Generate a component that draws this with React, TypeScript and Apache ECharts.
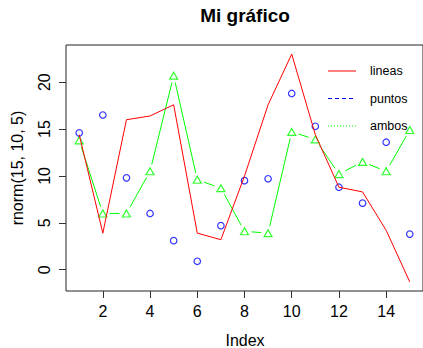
import React, { useEffect, useRef } from "react";
import * as echarts from "echarts";

// Index positions and the three series
const xIndex = [1, 2, 3, 4, 5, 6, 7, 8, 9, 10, 11, 12, 13, 14, 15];
const lineas = [14.4, 3.9, 16.0, 16.4, 17.6, 3.9, 3.2, 10.0, 17.6, 23.0, 14.4, 8.8, 8.3, 4.2, -1.3];
const puntos = [14.6, 16.5, 9.8, 6.0, 3.1, 0.9, 4.7, 9.5, 9.7, 18.8, 15.3, 8.8, 7.1, 13.6, 3.8];
const ambos = [13.8, 6.0, 6.0, 10.5, 20.7, 9.6, 8.7, 4.1, 3.9, 14.7, 13.9, 10.2, 11.5, 10.5, 14.9];

// Tick positions
const xTicks = [2, 4, 6, 8, 10, 12, 14];
const yTicks = [0, 5, 10, 15, 20];

// Legend entries
const legendLabels = ["lineas", "puntos", "ambos"];

const RED = "#FF0000";
const BLUE = "#0000FF";
const GREEN = "#00FF00";
const FONT = "'Liberation Sans', Arial, Helvetica, sans-serif";

// Base-graphics style 4% padding around the data range
function padRange(values: number[]): [number, number] {
  const lo = Math.min(...values);
  const hi = Math.max(...values);
  const d = (hi - lo) * 0.04;
  return [lo - d, hi + d];
}

export default function App() {
  const ref = useRef<HTMLDivElement>(null);

  useEffect(() => {
    if (!ref.current) return;
    const chart = echarts.init(ref.current, undefined, { renderer: "svg" });

    const [xMin, xMax] = padRange(xIndex);
    const [yMin, yMax] = padRange(lineas);

    const gridLeft = 66;
    const gridTop = 45;
    const gridWidth = 358;
    const gridHeight = 246;

    // segments between consecutive "ambos" points, drawn with a gap at each point
    const segData = ambos.slice(0, -1).map((v, i) => [xIndex[i], v, xIndex[i + 1], ambos[i + 1]]);

    const legendX1 = 328;
    const legendX2 = 356;
    const legendYs = [71, 98.5, 126];
    const legendStyles = [
      { stroke: RED, lineWidth: 1 },
      { stroke: BLUE, lineWidth: 1, lineDash: [4, 3] },
      { stroke: GREEN, lineWidth: 1, lineDash: [1, 2] },
    ];

    const graphic: any[] = [
      {
        type: "text",
        x: gridLeft + gridWidth / 2,
        y: 15,
        style: {
          text: "Mi gráfico",
          font: `bold 19px ${FONT}`,
          fill: "#000",
          textAlign: "center",
          textVerticalAlign: "middle",
        },
      },
      {
        type: "text",
        x: gridLeft + gridWidth / 2,
        y: 340,
        style: {
          text: "Index",
          font: `16px ${FONT}`,
          fill: "#000",
          textAlign: "center",
          textVerticalAlign: "middle",
        },
      },
      {
        type: "text",
        x: 17,
        y: gridTop + gridHeight / 2,
        rotation: Math.PI / 2,
        style: {
          text: "rnorm(15, 10, 5)",
          font: `16px ${FONT}`,
          fill: "#000",
          textAlign: "center",
          textVerticalAlign: "middle",
        },
      },
    ];
    legendLabels.forEach((label, i) => {
      graphic.push({
        type: "line",
        shape: { x1: legendX1, y1: legendYs[i], x2: legendX2, y2: legendYs[i] },
        style: legendStyles[i],
      });
      graphic.push({
        type: "text",
        x: 370,
        y: legendYs[i],
        style: {
          text: label,
          font: `12.5px ${FONT}`,
          fill: "#000",
          textAlign: "left",
          textVerticalAlign: "middle",
        },
      });
    });

    chart.setOption({
      animation: false,
      backgroundColor: "#fff",
      grid: {
        left: gridLeft,
        top: gridTop,
        width: gridWidth,
        height: gridHeight,
        show: true,
        borderColor: "#222",
        borderWidth: 1,
        backgroundColor: "transparent",
      },
      xAxis: {
        type: "value",
        min: xMin,
        max: xMax,
        splitLine: { show: false },
        axisLine: { show: false, onZero: false },
        axisTick: {
          show: true,
          customValues: xTicks,
          length: 7,
          lineStyle: { color: "#333", width: 1 },
        },
        axisLabel: {
          customValues: xTicks,
          color: "#000",
          fontSize: 16,
          fontFamily: FONT,
          margin: 12,
        },
      },
      yAxis: {
        type: "value",
        min: yMin,
        max: yMax,
        splitLine: { show: false },
        axisLine: { show: false, onZero: false },
        axisTick: {
          show: true,
          customValues: yTicks,
          length: 7,
          lineStyle: { color: "#333", width: 1 },
        },
        axisLabel: {
          customValues: yTicks,
          color: "#000",
          fontSize: 16,
          fontFamily: FONT,
          rotate: 90,
          margin: 14,
        },
      },
      graphic,
      series: [
        {
          name: "lineas",
          type: "line",
          data: xIndex.map((x, i) => [x, lineas[i]]),
          showSymbol: false,
          symbol: "none",
          lineStyle: { color: RED, width: 1 },
          silent: true,
        },
        {
          name: "ambos-seg",
          type: "custom",
          data: segData,
          encode: { x: [0, 2], y: [1, 3] },
          silent: true,
          renderItem: (params: any, api: any) => {
            const p1 = api.coord([api.value(0), api.value(1)]);
            const p2 = api.coord([api.value(2), api.value(3)]);
            const dx = p2[0] - p1[0];
            const dy = p2[1] - p1[1];
            const len = Math.sqrt(dx * dx + dy * dy);
            const gap = 7;
            if (len <= gap * 2) return null;
            const ux = dx / len;
            const uy = dy / len;
            return {
              type: "line",
              shape: {
                x1: p1[0] + ux * gap,
                y1: p1[1] + uy * gap,
                x2: p2[0] - ux * gap,
                y2: p2[1] - uy * gap,
              },
              style: { stroke: GREEN, lineWidth: 1 },
            };
          },
        },
        {
          name: "ambos",
          type: "scatter",
          data: xIndex.map((x, i) => [x, ambos[i]]),
          symbol: "triangle",
          symbolSize: [8, 7],
          itemStyle: { color: "transparent", borderColor: GREEN, borderWidth: 1.2 },
          silent: true,
        },
        {
          name: "puntos",
          type: "scatter",
          data: xIndex.map((x, i) => [x, puntos[i]]),
          symbol: "circle",
          symbolSize: 6.5,
          itemStyle: { color: "transparent", borderColor: BLUE, borderWidth: 1.2 },
          silent: true,
        },
      ],
    });

    return () => chart.dispose();
  }, []);

  return (
    <div
      ref={ref}
      style={{ position: "fixed", left: 0, top: 0, width: 423, height: 348 }}
    />
  );
}
